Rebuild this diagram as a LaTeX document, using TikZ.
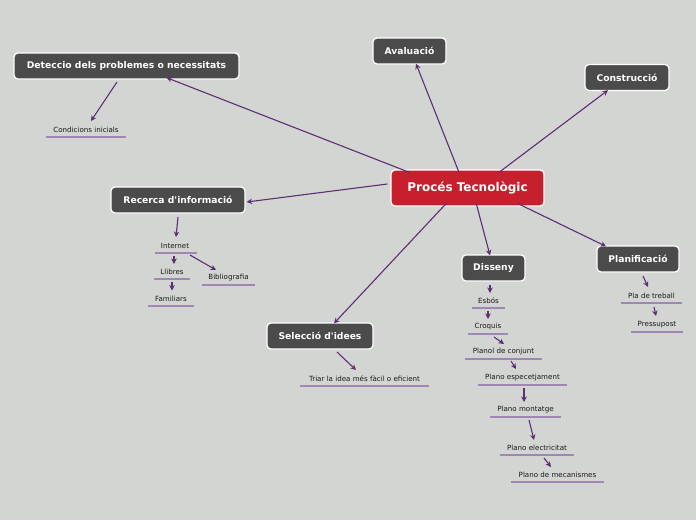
\documentclass[tikz,border=0pt]{standalone}
\usepackage{fontspec}
\setmainfont{DejaVu Sans}[Ligatures=TeXOff]
\usetikzlibrary{arrows.meta}
\definecolor{bg}{HTML}{D3D5D2}
\definecolor{boxdark}{HTML}{4B4B4B}
\definecolor{boxred}{HTML}{C6202F}
\definecolor{conn}{HTML}{5E2E75}
\definecolor{uline}{HTML}{9F86B3}
\tikzset{
  topic/.style={draw=white, line width=1.3pt, fill=boxdark, rounded corners=4pt, text=white,
    font=\bfseries\fontsize{9.2}{11}\selectfont, inner sep=0pt, minimum height=26pt},
  central/.style={topic, fill=boxred, font=\bfseries\fontsize{12}{14}\selectfont, minimum height=36pt, minimum width=153pt},
  sub/.style={font=\fontsize{7.1}{8}\selectfont, text=black!90, inner ysep=2pt, inner xsep=0pt, anchor=center},
  conn/.style={draw=conn, line width=1.1pt, -{Stealth[length=5.5pt,width=5.5pt]}},
  ul/.style={draw=uline, line width=1.2pt}
}
\begin{document}
\begin{tikzpicture}[x=1pt,y=-1pt]
\fill[bg] (0,0) rectangle (696,520);
\useasboundingbox (0,0) rectangle (696,520);

% main topics
\node[central] (c) at (467.5,188) {Procés Tecnològic};
\node[topic, minimum width=225pt] (det) at (126.5,66) {Deteccio dels problemes o necessitats};
\node[topic, minimum width=73pt] (ava) at (409.5,51) {Avaluació};
\node[topic, minimum width=84pt] (con) at (627,77.5) {Construcció};
\node[topic, minimum width=134pt] (rec) at (178,200) {Recerca d'informació};
\node[topic, minimum width=63pt] (dis) at (493.5,268) {Disseny};
\node[topic, minimum width=82pt] (pla) at (638,259) {Planificació};
\node[topic, minimum width=106pt] (sel) at (320,336) {Selecció d'idees};

% subtopics
\node[sub] (ci) at (86,129.5) {Condicions inicials};
\node[sub] (int) at (175,245.5) {Internet};
\node[sub] (lli) at (172,271.5) {Llibres};
\node[sub] (fam) at (171,298.5) {Familiars};
\node[sub] (bib) at (228.5,277.5) {Bibliografia};
\node[sub] (tri) at (364.5,378.5) {Triar la idea més fàcil o eficient};
\node[sub] (esb) at (488.5,300.5) {Esbós};
\node[sub] (cro) at (488,326.5) {Croquis};
\node[sub] (pcj) at (503.5,351.5) {Planol de conjunt};
\node[sub] (pes) at (522.5,377.5) {Plano especetjament};
\node[sub] (pmo) at (525.5,409.5) {Plano montatge};
\node[sub] (pel) at (537,447.5) {Plano electricitat};
\node[sub] (pme) at (557.5,474.5) {Plano de mecanismes};
\node[sub] (ptr) at (651.5,295.5) {Pla de treball};
\node[sub] (pre) at (657,324.5) {Pressupost};

% underlines
\draw[ul] (46,137) -- (126,137);
\draw[ul] (155,253) -- (197,253);
\draw[ul] (154,279) -- (190,279);
\draw[ul] (148,306) -- (194,306);
\draw[ul] (202,285) -- (255,285);
\draw[ul] (300,386) -- (429,386);
\draw[ul] (472,308) -- (505,308);
\draw[ul] (468,334) -- (508,334);
\draw[ul] (465,359) -- (542,359);
\draw[ul] (478,385) -- (567,385);
\draw[ul] (490,417) -- (561,417);
\draw[ul] (500,455) -- (574,455);
\draw[ul] (511,482) -- (604,482);
\draw[ul] (621,303) -- (682,303);
\draw[ul] (631,332) -- (683,332);

% connectors from central
\draw[conn] ([xshift=19pt,yshift=-3pt]c.north west) -- ([xshift=40pt,yshift=2pt]det.south);
\draw[conn] ([xshift=-8.5pt,yshift=-3pt]c.north) -- ([xshift=6.5pt,yshift=1pt]ava.south);
\draw[conn] ([xshift=31.5pt,yshift=-3pt]c.north) -- ([xshift=-19pt,yshift=1pt]con.south);
\draw[conn] ([xshift=-3pt,yshift=4pt]c.west) -- ([xshift=1pt,yshift=-2pt]rec.east);
\draw[conn] ([xshift=8.5pt,yshift=4pt]c.south) -- ([xshift=-3.5pt,yshift=-1pt]dis.north);
\draw[conn] ([xshift=50.5pt,yshift=3pt]c.south) -- ([xshift=-32pt,yshift=-1pt]pla.north);
\draw[conn] ([xshift=-20.5pt,yshift=4pt]c.south) -- ([xshift=14pt,yshift=-1pt]sel.north);

% sub connectors
\draw[conn] ([shift={(-9.5,16)}]det.center) -- ([shift={(5,-8.5)}]ci.center);
\draw[conn] ([shift={(0,17)}]rec.center) -- ([shift={(1,-8.5)}]int.center);
\draw[conn] ([shift={(-1,10.5)}]int.center) -- ([shift={(2,-7.5)}]lli.center);
\draw[conn] ([shift={(0,10.5)}]lli.center) -- ([shift={(1,-8)}]fam.center);
\draw[conn] ([shift={(15,9.5)}]int.center) -- ([shift={(-12.5,-7.5)}]bib.center);
\draw[conn] ([shift={(17,16)}]sel.center) -- ([shift={(-8.5,-8.5)}]tri.center);
\draw[conn] ([shift={(-3.5,17)}]dis.center) -- ([shift={(1.5,-7.5)}]esb.center);
\draw[conn] ([shift={(-0.5,10.5)}]esb.center) -- ([shift={(0,-7.5)}]cro.center);
\draw[conn] ([shift={(6,10.5)}]cro.center) -- ([shift={(0.5,-7.5)}]pcj.center);
\draw[conn] ([shift={(7.5,9.5)}]pcj.center) -- ([shift={(-6.5,-8.5)}]pes.center);
\draw[conn] ([shift={(1.5,10.5)}]pes.center) -- ([shift={(-1.5,-7.5)}]pmo.center);
\draw[conn] ([shift={(3.5,10.5)}]pmo.center) -- ([shift={(-3,-7.5)}]pel.center);
\draw[conn] ([shift={(7,10.5)}]pel.center) -- ([shift={(-6.5,-7.5)}]pme.center);
\draw[conn] ([shift={(5,17)}]pla.center) -- ([shift={(-3.5,-8.5)}]ptr.center);
\draw[conn] ([shift={(2.5,11.5)}]ptr.center) -- ([shift={(-1,-8.5)}]pre.center);
\end{tikzpicture}
\end{document}
